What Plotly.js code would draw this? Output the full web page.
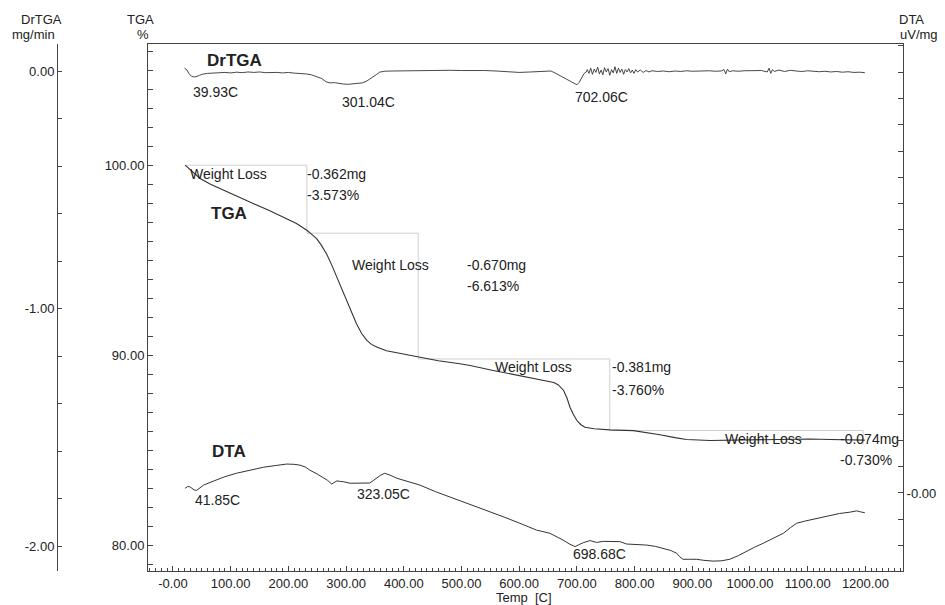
<!DOCTYPE html>
<html>
<head>
<meta charset="utf-8">
<script src="https://cdn.plot.ly/plotly-3.0.1.min.js"></script>
<style>html,body{margin:0;padding:0;background:#fff;}#chart{width:945px;height:605px;}</style>
</head>
<body>
<div id="chart"></div>
<script>
// ---- Data ----
// DrTGA (mg/min) vs temperature (C)
var drtgaTemp = [20,24,28,32,36,40,46,52,60,70,80,90,100,110,120,130,140,150,160,170,180,190,200,210,220,230,240,250,258,265,272,280,288,296,304,312,320,328,336,344,352,358,366,380,400,420,440,460,480,500,520,540,560,580,600,620,640,655,662,668,676,684,690,696,700,704,708,712,716,718,721,724,727,730,733,736,739,742,745,748,751,754,757,760,763,766,769,772,775,778,781,784,787,790,793,796,799,802,805,810,815,820,825,830,840,850,860,870,880,890,900,910,920,930,940,950,955,958,961,964,970,980,990,1000,1010,1020,1030,1033,1036,1039,1042,1050,1060,1070,1080,1090,1100,1110,1120,1130,1140,1150,1160,1170,1180,1190,1199];
var drtgaValue = [0.012,0.005,-0.012,-0.022,-0.025,-0.024,-0.018,-0.013,-0.010,-0.008,-0.007,-0.006,-0.008,-0.005,-0.007,-0.004,-0.006,-0.004,-0.007,-0.005,-0.006,-0.008,-0.006,-0.009,-0.010,-0.012,-0.016,-0.024,-0.032,-0.045,-0.050,-0.049,-0.053,-0.055,-0.056,-0.054,-0.055,-0.050,-0.042,-0.030,-0.016,-0.005,-0.001,0.000,0.001,-0.001,0.002,0.001,0.003,0.002,0.003,0.002,0.000,-0.003,-0.006,-0.004,-0.002,0.000,-0.008,-0.016,-0.028,-0.040,-0.046,-0.056,-0.058,-0.048,-0.030,-0.012,-0.004,0.006,-0.010,0.012,-0.014,0.008,-0.006,0.016,-0.012,0.004,-0.016,0.014,-0.004,0.010,-0.018,0.006,-0.008,0.018,-0.010,0.012,-0.006,0.008,-0.014,0.006,-0.004,0.010,-0.008,0.004,-0.010,0.006,-0.004,0.004,-0.006,0.002,-0.004,0.001,-0.002,0.000,-0.003,0.000,-0.002,0.001,-0.001,0.000,-0.002,0.001,-0.001,0.000,0.006,-0.012,0.008,-0.003,0.001,-0.001,0.001,0.002,0.000,0.002,-0.004,0.012,-0.010,0.006,-0.002,0.004,-0.002,0.003,0.000,-0.002,0.001,-0.001,-0.003,-0.001,-0.004,-0.002,-0.005,-0.003,-0.006,-0.005,-0.007];

// TGA (%) vs temperature (C)
var tgaTemp = [21,30,47,65,81,110,139,165,185,205,214,225,232,240,249,257,266,275,284,292,301,310,318,327,336,344,353,370,399,428,460,497,515,555,590,613,640,660,668,677,683,688,694,700,707,714,730,757,798,820,844,870,890,931,970,1017,1060,1104,1140,1178,1199];
var tgaValue = [100.0,99.75,99.3,99.0,98.77,98.38,97.98,97.64,97.37,97.07,96.93,96.72,96.58,96.38,96.14,95.8,95.35,94.76,94.12,93.5,92.89,92.25,91.67,91.15,90.79,90.58,90.44,90.25,90.09,89.91,89.72,89.56,89.47,89.21,89.0,88.89,88.72,88.58,88.45,88.16,87.75,87.28,86.9,86.58,86.36,86.23,86.15,86.09,86.05,85.95,85.83,85.68,85.58,85.53,85.54,85.56,85.59,85.61,85.58,85.56,85.55];

// DTA (uV/mg, one unit per axis tick) vs temperature (C)
var dtaTemp = [21,25,29,33,37,41,46,53,70,90,110,135,157,180,197,210,220,230,237,250,260,268,275,280,284,290,295,307,320,333,341,347,353,360,367,372,376,388,405,428,455,486,515,544,572,601,619,630,653,665,676,688,697,704,711,723,734,746,760,775,786,805,821,836,850,862,867,873,878,884,895,907,920,936,950,965,980,994,1008,1023,1040,1058,1070,1081,1095,1110,1125,1139,1155,1173,1185,1192,1199];
var dtaValue = [0.18,0.24,0.24,0.17,0.11,0.10,0.18,0.30,0.45,0.62,0.75,0.87,0.98,1.05,1.10,1.09,1.06,0.98,0.87,0.72,0.60,0.48,0.34,0.42,0.46,0.44,0.43,0.37,0.37,0.37,0.38,0.47,0.56,0.68,0.75,0.72,0.68,0.56,0.45,0.30,0.05,-0.20,-0.42,-0.65,-0.90,-1.15,-1.30,-1.41,-1.53,-1.65,-1.79,-1.95,-2.04,-1.96,-1.89,-1.81,-1.88,-1.84,-1.84,-1.85,-1.94,-1.96,-1.98,-2.03,-2.10,-2.18,-2.23,-2.29,-2.42,-2.52,-2.52,-2.52,-2.56,-2.59,-2.58,-2.52,-2.38,-2.21,-2.06,-1.91,-1.72,-1.53,-1.32,-1.15,-1.07,-1.00,-0.92,-0.84,-0.78,-0.73,-0.68,-0.72,-0.75];

// Weight-loss steps
var stepStartTemp = [21, 232, 425, 757];
var stepEndTemp = [232, 425, 757, 1196];
var stepLossPct = [3.573, 6.613, 3.760, 0.730];
var stepLossMg = [0.362, 0.670, 0.381, 0.074];

// Peak labels
var drtgaPeaks = ["39.93C", "301.04C", "702.06C"];
var dtaPeaks = ["41.85C", "323.05C", "698.68C"];

// Tick labels
var xTickVals = [0,100,200,300,400,500,600,700,800,900,1000,1100,1200];
var xTickText = ["-0.00","100.00","200.00","300.00","400.00","500.00","600.00","700.00","800.00","900.00","1000.00","1100.00","1200.00"];
var tgaTickVals = [80, 90, 100];
var tgaTickText = ["80.00", "90.00", "100.00"];
var drtgaTickVals = [0, -1, -2];
var drtgaTickText = ["0.00", "-1.00", "-2.00"];
var dtaTickVals = [0];
var dtaTickText = ["-0.00"];

// ---- Build step lines from losses ----
var levels = [100];
for (var i = 0; i < stepLossPct.length; i++) levels.push(levels[i] - stepLossPct[i]);
var stepX = [], stepY = [];
for (var i = 0; i < stepStartTemp.length; i++) {
  stepX.push(stepStartTemp[i], stepEndTemp[i], stepEndTemp[i], null);
  stepY.push(levels[i], levels[i], levels[i+1], null);
}

var lineColor = '#333333';
var axisColor = '#444444';
var txtColor = '#222222';
var FONT = 'Liberation Sans, Arial, sans-serif';

var traces = [
  {x: stepX, y: stepY, xaxis:'x', yaxis:'y', mode:'lines', line:{color:'#cfcfcf', width:1}, hoverinfo:'skip', connectgaps:false},
  {x: tgaTemp, y: tgaValue, xaxis:'x', yaxis:'y', mode:'lines', line:{color:lineColor, width:1.1}, hoverinfo:'skip'},
  {x: drtgaTemp, y: drtgaValue, xaxis:'x', yaxis:'y2', mode:'lines', line:{color:lineColor, width:0.9}, hoverinfo:'skip'},
  {x: dtaTemp, y: dtaValue, xaxis:'x', yaxis:'y3', mode:'lines', line:{color:lineColor, width:1}, hoverinfo:'skip'}
];

function ann(text, x, y, yref, opts) {
  var a = {text: text, x: x, y: y, xref: 'x', yref: yref, showarrow: false,
           xanchor: 'left', yanchor: 'middle', font: {family: FONT, size: 14, color: txtColor}};
  if (opts) for (var k in opts) a[k] = opts[k];
  return a;
}
// paper coordinates from pixel positions of the 945x605 picture (plot area 57..903 x 44..571)
function pann(text, px, py, size) {
  return {text: text, x: (px - 57) / 846, y: (571 - py) / 527, xref: 'paper', yref: 'paper', showarrow: false,
          xanchor: 'center', yanchor: 'middle', font: {family: FONT, size: size || 13, color: txtColor}};
}
var boldFont = {family: FONT, size: 17, color: txtColor, weight: 'bold'};

var annotations = [
  // series names
  ann('<b>DrTGA</b>', 55, 0.043, 'y2', {font: boldFont}),
  ann('<b>TGA</b>', 63, 97.46, 'y', {font: boldFont}),
  ann('<b>DTA</b>', 65, 1.57, 'y3', {font: boldFont}),
  // DrTGA peaks
  ann(drtgaPeaks[0], 31, -0.087, 'y2'),
  ann(drtgaPeaks[1], 290, -0.129, 'y2'),
  ann(drtgaPeaks[2], 693, -0.108, 'y2'),
  // DTA peaks
  ann(dtaPeaks[0], 34, -0.266, 'y3'),
  ann(dtaPeaks[1], 316, -0.038, 'y3'),
  ann(dtaPeaks[2], 690, -2.32, 'y3'),
  // weight-loss labels
  ann('Weight Loss', 26, 99.56, 'y'),
  ann('-' + stepLossMg[0].toFixed(3) + 'mg', 228, 99.53, 'y'),
  ann('-' + stepLossPct[0].toFixed(3) + '%', 228, 98.42, 'y'),
  ann('Weight Loss', 306, 94.74, 'y'),
  ann('-' + stepLossMg[1].toFixed(3) + 'mg', 506, 94.74, 'y'),
  ann('-' + stepLossPct[1].toFixed(3) + '%', 506, 93.63, 'y'),
  ann('Weight Loss', 554, 89.38, 'y'),
  ann('-' + stepLossMg[2].toFixed(3) + 'mg', 757, 89.38, 'y'),
  ann('-' + stepLossPct[2].toFixed(3) + '%', 757, 88.19, 'y'),
  ann('Weight Loss', 953, 85.62, 'y'),
  ann('-' + stepLossMg[3].toFixed(3) + 'mg', 1152, 85.62, 'y'),
  ann('-' + stepLossPct[3].toFixed(3) + '%', 1152, 84.53, 'y'),
  // axis titles
  pann('DrTGA', 41, 19.3),
  pann('mg/min', 33, 35),
  pann('TGA', 140, 19.3),
  pann('%', 142.5, 35),
  pann('DTA', 911, 19.3),
  pann('uV/mg', 919, 35),
  pann('Temp\u00a0 [C]', 524, 597.2)
];

var tickFont = {family: FONT, size: 13, color: txtColor};

var layout = {
  width: 945, height: 605,
  margin: {l: 57, r: 42, t: 44, b: 34, pad: 0},
  paper_bgcolor: '#ffffff', plot_bgcolor: '#ffffff',
  showlegend: false,
  font: {family: FONT, size: 13, color: txtColor},
  xaxis: {
    domain: [0.10757, 1], range: [-43.3, 1265.2],
    tickmode: 'array', tickvals: xTickVals, ticktext: xTickText,
    ticks: 'inside', ticklen: 5, tickcolor: axisColor, tickfont: tickFont,
    showline: true, linecolor: axisColor, linewidth: 1, mirror: true,
    showgrid: false, zeroline: false,
    minor: {tickmode: 'linear', tick0: 0, dtick: 10, ticks: 'inside', ticklen: 3, tickcolor: axisColor, showgrid: false}
  },
  yaxis: {
    anchor: 'x', side: 'left', range: [78.67, 106.37],
    tickmode: 'array', tickvals: tgaTickVals, ticktext: tgaTickText,
    ticks: 'inside', ticklen: 5, tickcolor: axisColor, tickfont: tickFont,
    showline: true, linecolor: axisColor, linewidth: 1,
    showgrid: false, zeroline: false,
    minor: {tickmode: 'linear', tick0: 80, dtick: 1, ticks: 'inside', ticklen: 5, tickcolor: axisColor, showgrid: false}
  },
  yaxis2: {
    overlaying: 'y', anchor: 'free', position: 0, side: 'left', range: [-2.105, 0.1137],
    tickmode: 'array', tickvals: drtgaTickVals, ticktext: drtgaTickText,
    ticks: 'inside', ticklen: 4, tickcolor: axisColor, tickfont: tickFont,
    showline: true, linecolor: axisColor, linewidth: 1,
    showgrid: false, zeroline: false,
    minor: {tickmode: 'linear', tick0: 0, dtick: 0.2, ticks: 'inside', ticklen: 4, tickcolor: axisColor, showgrid: false}
  },
  yaxis3: {
    overlaying: 'y', anchor: 'x', side: 'right', range: [-2.966, 17.07],
    tickmode: 'array', tickvals: dtaTickVals, ticktext: dtaTickText,
    ticks: 'inside', ticklen: 5, tickcolor: axisColor, tickfont: tickFont,
    showline: true, linecolor: axisColor, linewidth: 1,
    showgrid: false, zeroline: false,
    minor: {tickmode: 'linear', tick0: 0, dtick: 1, ticks: 'inside', ticklen: 5, tickcolor: axisColor, showgrid: false}
  },
  annotations: annotations
};

Plotly.newPlot('chart', traces, layout, {staticPlot: true, displayModeBar: false});
</script>
</body>
</html>
